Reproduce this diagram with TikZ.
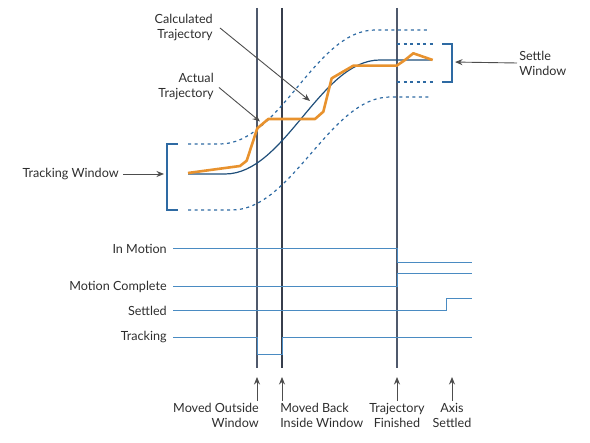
\documentclass[tikz,border=0pt]{standalone}
\usepackage{fontspec}
\setmainfont{Lato}
\usetikzlibrary{arrows.meta}
\definecolor{frame}{HTML}{4F596C}
\definecolor{signal}{HTML}{4A8BC2}
\definecolor{calc}{HTML}{1F4E7A}
\definecolor{band}{HTML}{2E6AA3}
\definecolor{actual}{HTML}{E8922E}
\definecolor{ink}{HTML}{2E2E2E}

\begin{document}
\begin{tikzpicture}[x=1pt,y=-1pt,>={Stealth[length=7.5pt,width=6pt]},semithick,
		font=\fontsize{12.6}{15}\selectfont,text=ink]
		\tikzstyle{lbl}=[inner sep=0pt,anchor=east,align=right]
		\tikzstyle{event}=[draw=frame,line width=1.1pt]
		\tikzstyle{sig}=[draw=signal,line width=1pt]
		\tikzstyle{win}=[draw=band,dash pattern=on 3pt off 3.5pt,line width=1.2pt]
		\tikzstyle{bracket}=[draw=band,line width=1.4pt]
		\tikzstyle{pointer}=[->,draw=ink!85,line width=0.9pt]
		
		\useasboundingbox (0,0) rectangle (590,443);
		
		% event lines
		\coordinate (mo1) at (257,8);   \coordinate (mo2) at (257,368);
		\coordinate (mb1) at (282,8);   \coordinate (mb2) at (282,368);
		\coordinate (tf1) at (397,8);   \coordinate (tf2) at (397,368);
		\coordinate (as2) at (452,368);
		\coordinate (rend) at (472,0);
		\draw[event] (mo1) -- (mo2);
		\draw[event,draw=frame!70!black,line width=1.4pt] (mb1) -- (mb2);
		\draw[event] (tf1) -- (tf2);
		
		% windows
		\draw[win] (188,144) -- (220,144) .. controls (280,144) and (315,30) .. (375,30) -- (430,30);
		\draw[win] (188,210) -- (232,210) .. controls (292,210) and (330,97) .. (390,97) -- (430,97);
		\draw[win] (tf1 |- 0,44) -- (433,44);
		\draw[win] (tf1 |- 0,82) -- (433,82);
		\draw[bracket] (178,144) -- (167,144) -- (167,210) -- (178,210);
		\draw[bracket] (442,44) -- (452,44) -- (452,82) -- (442,82);
		
		% trajectories
		\draw[calc,line width=1.2pt] (188,174) -- (225,174) .. controls (285,174) and (320,60) .. (380,60) -- (432,60);
		\draw[actual,line width=2.6pt,line join=round] (188,173) -- (240,166) -- (246.7,160.7) -- (257.3,128.3)
			-- (268.3,119) -- (315,119) -- (323.3,111.7) -- (331.7,78.3) -- (353.3,65.7)
			-- (396.7,65.7) -- (405,60) -- (413.3,53.3) -- (432.7,60);
		
		% labels of the plot
		\node[lbl] (calcl) at (213,28) {Calculated\\Trajectory};
		\node[lbl] (actl) at (214,86.5) {Actual\\Trajectory};
		\node[lbl] (twl) at (119,174) {Tracking Window};
		\node[inner sep=0pt,anchor=west,align=left] (swl) at (519,63) {Settle\\Window};
		\coordinate (calctip) at (310,101);
		\coordinate (acttip) at (260,121.5);
		\coordinate (twtip) at (167,174);
		\coordinate (swtip) at (452,62);
		\draw[pointer] ([xshift=7pt]calcl.east) -- (calctip);
		\draw[pointer] ([xshift=5pt,yshift=-1pt]actl.east) -- (acttip);
		\draw[pointer,shorten >=3pt] ([xshift=4pt]twl.east) -- (twtip);
		\draw[pointer,shorten >=3pt] ([xshift=-2pt]swl.west) -- (swtip);
		
		% signals
		\node[lbl] (inm) at (167,249) {In Motion};
		\node[lbl] (mcp) at (167,286.7) {Motion Complete};
		\node[lbl] (stl) at (167,311) {Settled};
		\node[lbl] (trk) at (167,337.3) {Tracking};
		\draw[sig] ([xshift=6pt]inm.east) -- (inm -| tf1) -- ++(0,13.7) -- ++(75,0);
		\draw[sig] ([xshift=6pt]mcp.east) -- (mcp -| tf1) -- ++(0,-13.4) -- ++(75,0);
		\draw[sig] ([xshift=6pt]stl.east) -- (stl -| 446.7,0) -- ++(0,-12) -- (rend |- 0,299);
		\draw[sig] ([xshift=6pt]trk.east) -- (trk -| mo1) -- ++(0,17) -| (trk -| mb1) -- (trk -| rend);
		
		% events
		\node[anchor=north east,align=right,inner sep=0pt] (mol) at (259,403) {Moved Outside\\Window};
		\node[anchor=north west,align=left,inner sep=0pt] (mbl) at (280,403) {Moved Back\\Inside Window};
		\node[anchor=north,align=center,inner sep=0pt] (tfl) at (397,403) {Trajectory\\Finished};
		\node[anchor=north,align=center,inner sep=0pt] (asl) at (452,403) {Axis\\Settled};
		\draw[pointer,shorten >=9pt] ([yshift=2pt]mol.north -| mo2) -- (mo2);
		\draw[pointer,shorten >=9pt] ([yshift=2pt]mbl.north -| mb2) -- (mb2);
		\draw[pointer,shorten >=9pt] ([yshift=2pt]tfl.north) -- (tf2);
		\draw[pointer,shorten >=9pt] ([yshift=2pt]asl.north) -- (as2);
\end{tikzpicture}
\end{document}
